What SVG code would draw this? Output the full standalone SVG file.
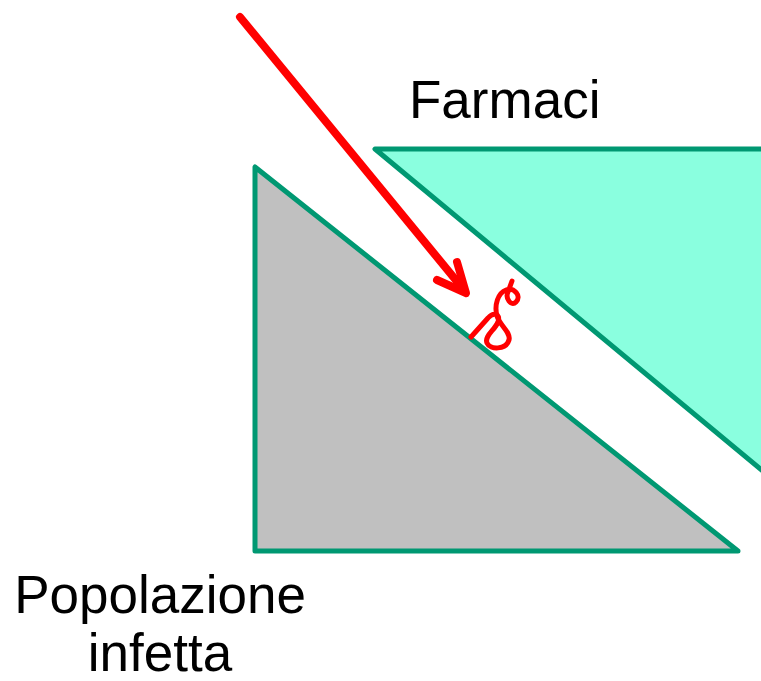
<svg xmlns="http://www.w3.org/2000/svg" width="761" height="681" viewBox="0 0 761 681">
<style>
.tri{stroke:#009872;stroke-width:5;stroke-linejoin:round}
.lbl{font-family:"Liberation Sans",Arial,sans-serif;font-size:53px;fill:#000}
.red{fill:none;stroke:#ff0000;stroke-linecap:round;stroke-linejoin:round}
</style>
<rect width="761" height="681" fill="#fff"/>
<g id="farmaci">
<polygon class="tri" points="375,149 800,149 800,502" fill="#8affdf"/>
<text class="lbl" x="409" y="118">Farmaci</text>
</g>
<g id="popolazione">
<polygon class="tri" points="255,167 255,551 738,551" fill="#c0c0c0"/>
<text class="lbl" x="160" y="613" text-anchor="middle">Popolazione</text>
<text class="lbl" x="160" y="671" text-anchor="middle">infetta</text>
</g>
<g id="connectors">
<line class="red" x1="240" y1="17" x2="464" y2="290" stroke-width="8"/>
<polyline class="red" points="437,280 466,293 457,262" stroke-width="8"/>
<path class="red" stroke-width="5" d="M471,337 L488,318 C493,312 501,313 498,322 C495,330 484,336 487,343 C490,350 506,350 509,340 C511,332 500,326 497,316 C494,305 498,293 506,290 C514,287 522,296 516,302 C511,307 505,298 508,292 L512,281"/>
</g>
</svg>
